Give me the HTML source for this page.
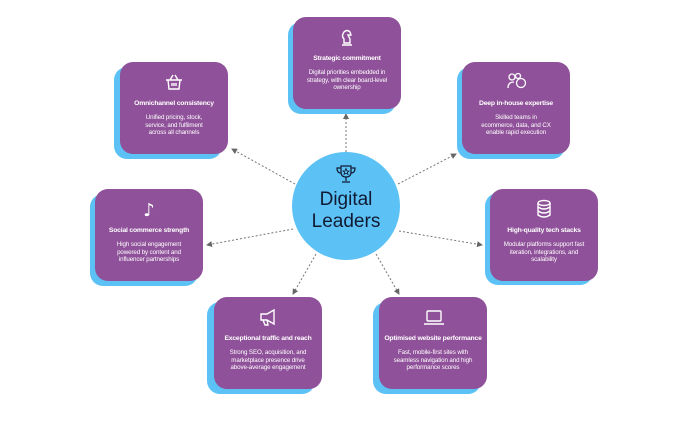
<!DOCTYPE html>
<html><head><meta charset="utf-8"><style>
html,body{margin:0;padding:0;background:#fff;}
body{width:680px;height:424px;position:relative;overflow:hidden;font-family:"Liberation Sans",sans-serif;}
.sh{position:absolute;width:108px;height:92px;background:#5cc2f6;border-radius:13px;}
.bx{position:absolute;width:108px;height:92px;background:#8f5199;border-radius:13px;color:#fff;text-align:center;}
.bx svg{position:absolute;left:44px;top:10px;}
.t{position:absolute;left:0;right:0;top:38px;font-size:6.8px;font-weight:bold;letter-spacing:-0.2px;}
.d{position:absolute;left:13px;right:13px;top:52px;font-size:6.2px;line-height:7.6px;letter-spacing:-0.1px;}
.c{position:absolute;left:292px;top:152px;width:108px;height:108px;border-radius:50%;background:#5cc2f6;text-align:center;}
.c .w{position:absolute;left:0;right:0;top:37px;font-size:19px;line-height:22px;color:#111a33;}
</style></head><body>
<svg width="680" height="424" style="position:absolute;left:0;top:0">
<defs><marker id="a" markerWidth="6" markerHeight="6" refX="5" refY="3" orient="auto"><path d="M0,0 L6,3 L0,6 z" fill="#666"/></marker></defs>
<g stroke="#777" stroke-width="1" stroke-dasharray="2,2" fill="none" marker-end="url(#a)">
<line x1="346" y1="152" x2="346" y2="114"/>
<line x1="295" y1="184" x2="232" y2="149"/>
<line x1="398" y1="184" x2="456" y2="154"/>
<line x1="399" y1="231" x2="482" y2="245"/>
<line x1="293" y1="229" x2="207" y2="245"/>
<line x1="316" y1="254" x2="293" y2="294"/>
<line x1="376" y1="254" x2="399" y2="294"/>
</g></svg>

<div class="sh" style="left:288px;top:22px"></div>
<div class="bx" style="left:293px;top:17px">
<svg width="20" height="20" viewBox="0 0 20 20" fill="none" stroke="#fff" stroke-width="1.4"><path d="M7 16 L7 12 Q4 9 7 5 Q10 2 13 5 L14 8 L11 8 L13 12 L13 16 Z M5 18 H15"/></svg>
<div class="t">Strategic commitment</div>
<div class="d">Digital priorities embedded in strategy, with clear board-level ownership</div></div>

<div class="sh" style="left:114px;top:67px"></div>
<div class="bx" style="left:120px;top:62px">
<svg width="20" height="20" viewBox="0 0 20 20" fill="none" stroke="#fff" stroke-width="1.4"><path d="M2 8 H18 M4 8 L5 17 H15 L16 8 M6 8 L9 3 M14 8 L11 3 M8 11 V14 M10 11 V14 M12 11 V14"/></svg>
<div class="t">Omnichannel consistency</div>
<div class="d" style="left:19px;right:19px">Unified pricing, stock, service, and fulfilment across all channels</div></div>

<div class="sh" style="left:457px;top:67px"></div>
<div class="bx" style="left:462px;top:62px">
<svg width="22" height="20" viewBox="0 0 22 20" fill="none" stroke="#fff" stroke-width="1.3"><circle cx="6" cy="5" r="3"/><circle cx="12" cy="4" r="2.5"/><circle cx="15" cy="11" r="4.5"/><path d="M2 16 Q2 10 8 10"/></svg>
<div class="t">Deep in-house expertise</div>
<div class="d" style="left:18px;right:18px">Skilled teams in ecommerce, data, and CX enable rapid execution</div></div>

<div class="sh" style="left:485px;top:193px"></div>
<div class="bx" style="left:490px;top:189px">
<svg width="20" height="20" viewBox="0 0 20 20" fill="none" stroke="#fff" stroke-width="1.4"><ellipse cx="10" cy="4" rx="6" ry="2.5"/><path d="M4 4 V16 Q10 20 16 16 V4 M4 8 Q10 12 16 8 M4 12 Q10 16 16 12"/></svg>
<div class="t">High-quality tech stacks</div>
<div class="d">Modular platforms support fast iteration, integrations, and scalability</div></div>

<div class="sh" style="left:90px;top:194px"></div>
<div class="bx" style="left:95px;top:189px">
<svg width="20" height="20" viewBox="0 0 20 20"><text x="10" y="17" font-size="18" font-weight="bold" fill="#fff" text-anchor="middle" font-family="DejaVu Sans">♪</text></svg>
<div class="t">Social commerce strength</div>
<div class="d">High social engagement powered by content and influencer partnerships</div></div>

<div class="sh" style="left:207px;top:302px"></div>
<div class="bx" style="left:214px;top:297px">
<svg width="20" height="20" viewBox="0 0 20 20" fill="none" stroke="#fff" stroke-width="1.4"><path d="M3 7 H9 L16 3 V17 L9 13 H3 Z M5 13 L7 18 H10 L9 13"/></svg>
<div class="t">Exceptional traffic and reach</div>
<div class="d">Strong SEO, acquisition, and marketplace presence drive above-average engagement</div></div>

<div class="sh" style="left:373px;top:302px"></div>
<div class="bx" style="left:379px;top:297px">
<svg width="22" height="20" viewBox="0 0 22 20" fill="none" stroke="#fff" stroke-width="1.4"><rect x="4" y="4" width="14" height="10" rx="1"/><path d="M1 17 H21"/></svg>
<div class="t">Optimised website performance</div>
<div class="d">Fast, mobile-first sites with seamless navigation and high performance scores</div></div>

<div class="c">
<svg width="22" height="22" viewBox="0 0 22 22" style="position:absolute;left:43px;top:11px" fill="none" stroke="#111a33" stroke-width="1.2"><path d="M6 3 H16 V9 Q16 14 11 14 Q6 14 6 9 Z M6 5 H2 Q2 10 6 10 M16 5 H20 Q20 10 16 10 M11 14 V18 M7 19 H15"/><path d="M11 5.5 L12 8 L14 8 L12.4 9.3 L13 11.5 L11 10.2 L9 11.5 L9.6 9.3 L8 8 L10 8 Z" stroke-width="0.8"/></svg>
<div class="w">Digital<br>Leaders</div></div>
</body></html>
